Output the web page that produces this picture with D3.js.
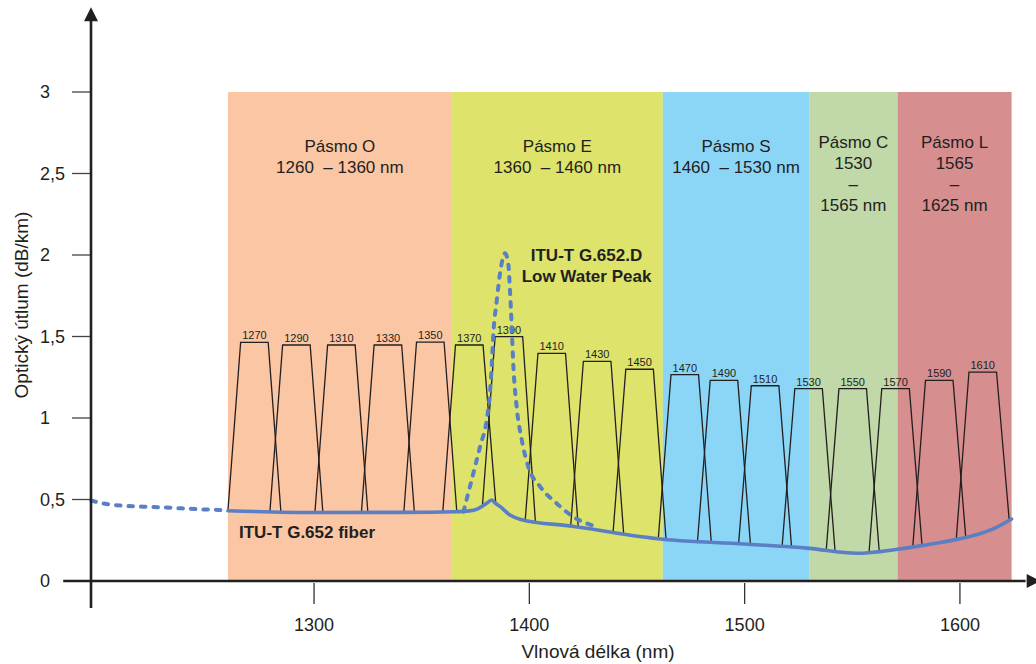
<!DOCTYPE html>
<html>
<head>
<meta charset="utf-8">
<script src="https://cdn.jsdelivr.net/npm/d3@7"></script>
<style>
  html, body { margin: 0; padding: 0; background: #ffffff; }
  svg { display: block; font-family: "Liberation Sans", Arial, sans-serif; }
  text { white-space: pre; }
</style>
</head>
<body>
<svg id="chart" width="1036" height="664"></svg>
<script>
// ---------- DATA ----------
const bandEdges = [1260, 1364, 1462, 1530, 1571, 1624];
const bandColors = ["#fbc6a3", "#dde36b", "#8bd6f6", "#c1d8a8", "#d78e8e"];
const bandLabelLines = [
  ["Pásmo O", "1260  – 1360 nm"],
  ["Pásmo E", "1360  – 1460 nm"],
  ["Pásmo S", "1460  – 1530 nm"],
  ["Pásmo C", "1530", "–", "1565 nm"],
  ["Pásmo L", "1565", "–", "1625 nm"]
];
const bandTop = 3;

const channelLabels = [1270, 1290, 1310, 1330, 1350, 1370, 1390, 1410, 1430, 1450,
                       1470, 1490, 1510, 1530, 1550, 1570, 1590, 1610];
const channelCenters = [1272.3, 1291.8, 1312.7, 1334.3, 1354, 1372.1, 1390.5, 1410.4, 1431.5, 1451.2,
                        1472.2, 1490.4, 1509.5, 1529.7, 1550.2, 1570.1, 1590.4, 1610.6];
const channelTops = [1.464, 1.448, 1.448, 1.448, 1.466, 1.448, 1.499, 1.397, 1.348, 1.299,
                     1.266, 1.231, 1.198, 1.180, 1.180, 1.180, 1.231, 1.282];
const channelTopHalf = 6.4;     // nm
const channelBottomHalf = 12.3; // nm

// ITU-T G.652 fiber attenuation (solid)
const fiberWl  = [1260, 1300, 1340, 1365, 1372, 1376, 1379, 1381, 1382.5, 1384, 1386.5, 1391, 1396,
                  1420, 1462, 1500, 1530, 1552, 1571, 1582, 1601, 1610, 1616, 1624];
const fiberVal = [0.431, 0.42, 0.421, 0.425, 0.43, 0.443, 0.466, 0.485, 0.497, 0.48, 0.456, 0.405, 0.378,
                  0.336, 0.256, 0.227, 0.2, 0.17, 0.195, 0.217, 0.262, 0.293, 0.323, 0.38];
// extension toward shorter wavelengths (dotted)
const extWl  = [1196.6, 1203.6, 1211.3, 1220.6, 1229.9, 1238.4, 1246.9, 1255.4, 1260];
const extVal = [0.493, 0.472, 0.462, 0.456, 0.452, 0.446, 0.440, 0.436, 0.431];
// water peak (dashed)
const peakWl  = [1369.4, 1374, 1377.1, 1380.2, 1381.7, 1382.5, 1383.3, 1384.9, 1386.4, 1388.7, 1390.2,
                 1391, 1391.8, 1392.6, 1394.1, 1396.5, 1399.5, 1405, 1412.7, 1420.4, 1431.3];
const peakVal = [0.425, 0.661, 0.824, 0.988, 1.152, 1.315, 1.52, 1.724, 1.888, 2.01, 1.949,
                 1.785, 1.56, 1.315, 1.069, 0.865, 0.701, 0.579, 0.476, 0.394, 0.333];

const xTicks = [1300, 1400, 1500, 1600];
const yTicks = [0, 0.5, 1, 1.5, 2, 2.5, 3];
const yTickLabels = ["0", "0,5", "1", "1,5", "2", "2,5", "3"];
const xTitle = "Vlnová délka (nm)";
const yTitle = "Optický útlum (dB/km)";
const fiberLabel = "ITU-T G.652 fiber";
const peakLabel = ["ITU-T G.652.D", "Low Water Peak"];

// ---------- SCALES ----------
const svg = d3.select("#chart");
const x = d3.scaleLinear().domain([1196.4, 1624]).range([91, 1011.6]);
const y = d3.scaleLinear().domain([0, 3]).range([581, 92]);
const ink = "#231f20";
const blue = "#5a7fc5";
const fiberAt = d3.scaleLinear().domain(fiberWl).range(fiberVal);

// ---------- BANDS ----------
const bands = bandColors.map((c, i) => ({ x0: bandEdges[i], x1: bandEdges[i + 1], color: c, lines: bandLabelLines[i] }));
svg.append("g").selectAll("rect").data(bands).join("rect")
  .attr("x", d => x(d.x0))
  .attr("y", y(bandTop))
  .attr("width", d => x(d.x1) - x(d.x0))
  .attr("height", y(0) - y(bandTop))
  .attr("fill", d => d.color);

const bandText = svg.append("g").attr("font-size", 17).attr("fill", ink).attr("text-anchor", "middle");
bands.forEach(b => {
  const first = b.lines.length > 2 ? 148.3 : 152.3;
  b.lines.forEach((ln, j) => {
    bandText.append("text")
      .attr("x", (x(b.x0) + x(b.x1)) / 2)
      .attr("y", first + j * 21)
      .text(ln);
  });
});

// ---------- CHANNELS ----------
const channels = channelLabels.map((l, i) => ({ label: l, c: channelCenters[i], top: channelTops[i] }));
const chG = svg.append("g");
chG.selectAll("path").data(channels).join("path")
  .attr("fill", "none")
  .attr("stroke", ink)
  .attr("stroke-width", 1.3)
  .attr("stroke-linejoin", "miter")
  .attr("d", d => {
    const l0 = d.c - channelBottomHalf, l1 = d.c - channelTopHalf;
    const r1 = d.c + channelTopHalf, r0 = d.c + channelBottomHalf;
    return d3.line()([
      [x(l0), y(fiberAt(l0))],
      [x(l1), y(d.top)],
      [x(r1), y(d.top)],
      [x(r0), y(fiberAt(r0))]
    ]);
  });
chG.selectAll("text").data(channels).join("text")
  .attr("x", d => x(d.c))
  .attr("y", d => y(d.top) - 3)
  .attr("text-anchor", "middle")
  .attr("font-size", 11)
  .attr("fill", ink)
  .text(d => d.label);

// ---------- CURVES ----------
const line = d3.line().x(d => x(d[0])).y(d => y(d[1])).curve(d3.curveMonotoneX);
svg.append("path")
  .datum(extWl.map((w, i) => [w, extVal[i]]))
  .attr("d", line)
  .attr("fill", "none")
  .attr("stroke", blue)
  .attr("stroke-width", 4)
  .attr("stroke-linecap", "round")
  .attr("stroke-dasharray", "4.5,8");
svg.append("path")
  .datum(peakWl.map((w, i) => [w, peakVal[i]]))
  .attr("d", line)
  .attr("fill", "none")
  .attr("stroke", blue)
  .attr("stroke-width", 4)
  .attr("stroke-linecap", "round")
  .attr("stroke-dasharray", "4.5,8");
svg.append("path")
  .datum(fiberWl.map((w, i) => [w, fiberVal[i]]))
  .attr("d", line)
  .attr("fill", "none")
  .attr("stroke", blue)
  .attr("stroke-width", 3.6)
  .attr("stroke-linecap", "round");

// ---------- ANNOTATIONS ----------
svg.append("text")
  .attr("x", 239).attr("y", 538.3)
  .attr("font-size", 17).attr("font-weight", "bold").attr("fill", ink)
  .text(fiberLabel);
peakLabel.forEach((t, i) => {
  svg.append("text")
    .attr("x", 586.5).attr("y", 260.7 + i * 21)
    .attr("text-anchor", "middle")
    .attr("font-size", 17).attr("font-weight", "bold").attr("fill", ink)
    .text(t);
});

// ---------- AXES ----------
const axG = svg.append("g");
// y ticks
axG.selectAll("line.yt").data(yTicks).join("line")
  .attr("class", "yt")
  .attr("x1", 72).attr("x2", x.range()[0])
  .attr("y1", d => y(d)).attr("y2", d => y(d))
  .attr("stroke", "#444").attr("stroke-width", 1.3);
axG.selectAll("text.yl").data(yTicks).join("text")
  .attr("class", "yl")
  .attr("x", 40)
  .attr("y", d => y(d))
  .attr("dy", "0.36em")
  .attr("font-size", 18)
  .attr("fill", ink)
  .text((d, i) => yTickLabels[i]);
// x ticks
axG.selectAll("line.xt").data(xTicks).join("line")
  .attr("class", "xt")
  .attr("x1", d => x(d)).attr("x2", d => x(d))
  .attr("y1", y(0) + 2).attr("y2", y(0) + 23)
  .attr("stroke", "#333").attr("stroke-width", 1.3);
axG.selectAll("text.xl").data(xTicks).join("text")
  .attr("class", "xl")
  .attr("x", d => x(d))
  .attr("y", 631)
  .attr("text-anchor", "middle")
  .attr("font-size", 18)
  .attr("fill", ink)
  .text(d => d);

// axis lines
const x0 = x.range()[0], yb = y(0);
axG.append("line")
  .attr("x1", x0).attr("x2", x0)
  .attr("y1", y(-0.166)).attr("y2", y(3.45))
  .attr("stroke", ink).attr("stroke-width", 2.6);
axG.append("line")
  .attr("x1", x(1183.5)).attr("x2", x(1630.5))
  .attr("y1", yb).attr("y2", yb)
  .attr("stroke", ink).attr("stroke-width", 2.6);
// arrow heads
const yTip = y(3.52);
axG.append("path")
  .attr("d", `M${x0},${yTip} L${x0 - 7},${yTip + 14} L${x0 + 7},${yTip + 14} Z`)
  .attr("fill", ink);
const xTip = x(1637.5);
axG.append("path")
  .attr("d", `M${xTip},${yb} L${xTip - 14},${yb - 7} L${xTip - 14},${yb + 7} Z`)
  .attr("fill", ink);

// titles
svg.append("text")
  .attr("x", 598).attr("y", 658)
  .attr("text-anchor", "middle")
  .attr("font-size", 19).attr("fill", ink)
  .text(xTitle);
svg.append("text")
  .attr("transform", "translate(27.5,305) rotate(-90)")
  .attr("text-anchor", "middle")
  .attr("font-size", 19).attr("fill", ink)
  .text(yTitle);
</script>
</body>
</html>
